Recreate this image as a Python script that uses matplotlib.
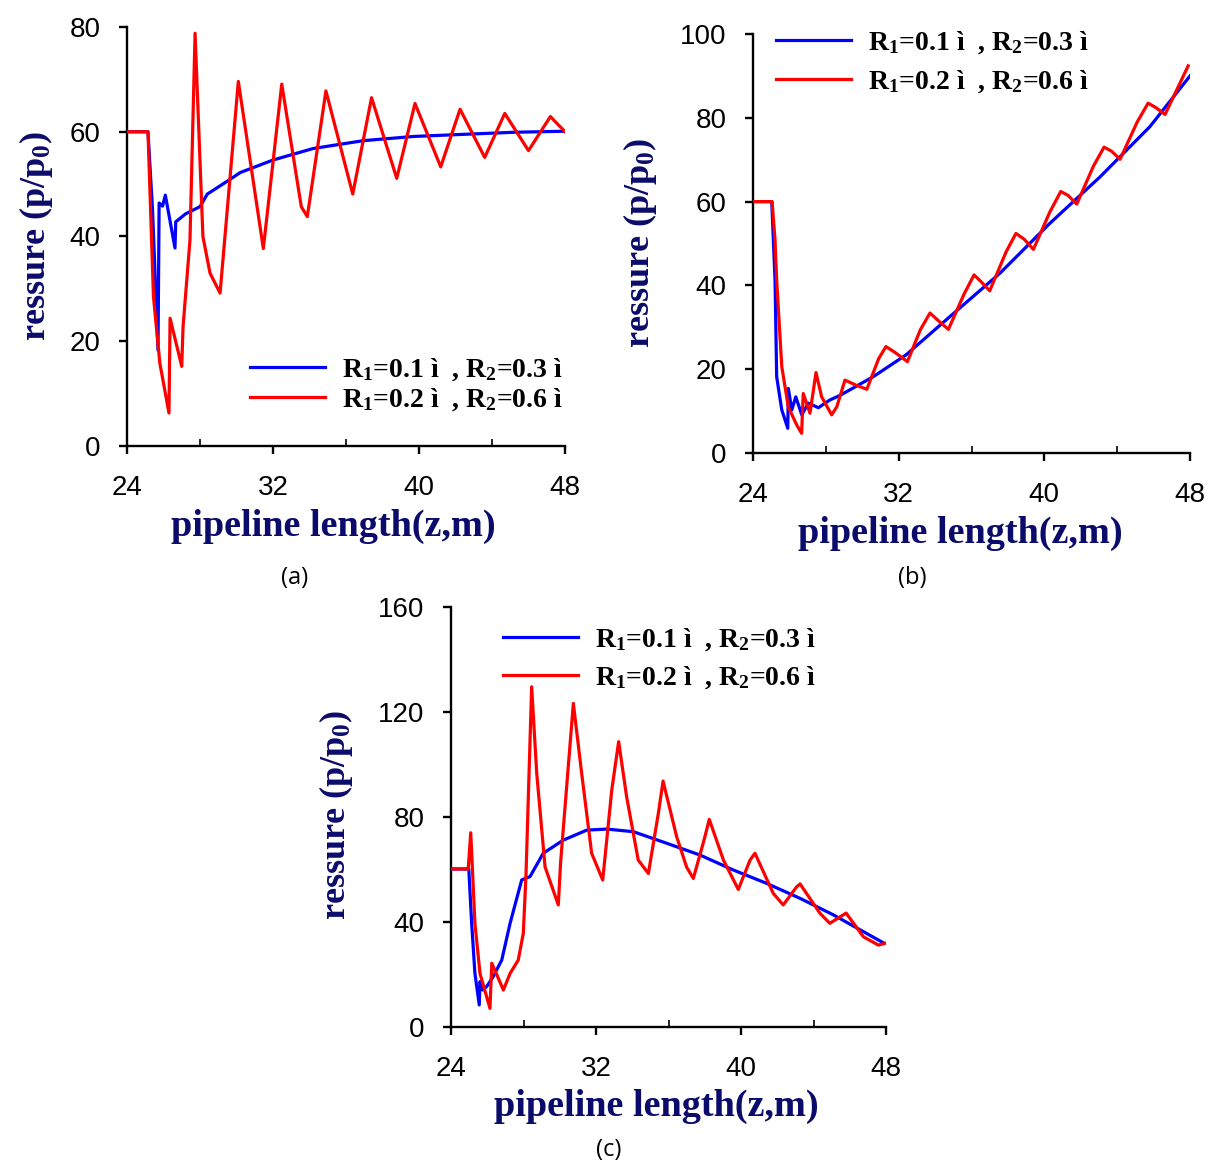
import matplotlib
matplotlib.use("Agg")
import matplotlib.pyplot as plt
from matplotlib.ticker import MultipleLocator

plt.rcParams['mathtext.fontset'] = 'custom'
plt.rcParams['mathtext.rm'] = 'Liberation Serif:bold'
plt.rcParams['mathtext.it'] = 'Liberation Serif:bold'
plt.rcParams['mathtext.bf'] = 'Liberation Serif:bold'

# ---------------- data ----------------
# panel (a)
a_blue_z = [24, 25.15, 25.4, 25.7, 25.76, 25.95, 26.1, 26.63, 26.67, 27.2, 28.0, 28.4,
            29.6, 30.2, 32.0, 34.2, 36.95, 39.7, 42.4, 45.2, 48]
a_blue_p = [60, 60, 45, 18.3, 46.4, 45.8, 47.9, 37.8, 42.8, 44.3, 45.7, 48.1,
            50.8, 52.2, 54.6, 56.8, 58.3, 59.1, 59.5, 59.9, 60.1]
a_red_z = [24, 25.15, 25.45, 25.8, 26.3, 26.36, 27.0, 27.07, 27.45, 27.73, 28.16, 28.55,
           29.1, 30.1, 31.47, 32.48, 33.55, 33.88, 34.9, 36.37, 37.4, 38.78, 39.78,
           41.19, 42.25, 43.6, 44.7, 46.0, 47.2, 48]
a_red_p = [60, 60, 28.5, 15.8, 6.3, 24.4, 15.2, 22.7, 39.3, 78.8, 40, 33,
           29.2, 69.6, 37.7, 69.1, 45.7, 43.8, 67.8, 48.1, 66.5, 51.1, 65.4,
           53.3, 64.3, 55.1, 63.5, 56.4, 62.9, 60]

# panel (b)
b_blue_z = [24, 25.03, 25.21, 25.3, 25.58, 25.91, 25.94, 26.13, 26.35, 26.68, 27.04, 27.59,
            28.2, 28.8, 30.6, 32.4, 34.8, 37.56, 40.3, 43.06, 45.8, 48]
b_blue_p = [60, 60, 41.3, 18.2, 10.3, 5.9, 15.4, 10.3, 13.4, 9.1, 11.9, 10.8,
            12.6, 13.8, 18.2, 23.4, 32.5, 42.9, 54.8, 65.9, 77.9, 90]
b_red_z = [24, 25.05, 25.21, 25.3, 25.58, 25.94, 26.4, 26.67, 26.76, 27.13, 27.46, 27.77,
           28.32, 28.6, 29.05, 29.6, 30.25, 30.9, 31.3, 31.8, 32.48, 33.2, 33.72, 34.2,
           34.73, 35.6, 36.14, 36.5, 37.0, 37.9, 38.44, 38.9, 39.4, 40.3, 40.9, 41.3,
           41.78, 42.7, 43.28, 43.7, 44.16, 45.1, 45.7, 46.1, 46.63, 47.9]
b_red_p = [60, 60, 50.8, 41.3, 20.6, 11, 6.7, 4.7, 14.2, 9.5, 19.2, 13.4,
           9.1, 11, 17.4, 16.3, 15.2, 22.5, 25.4, 24.0, 21.8, 29.5, 33.4, 31.5,
           29.5, 38.0, 42.5, 41.0, 38.7, 48.0, 52.4, 51.0, 48.6, 57.5, 62.4, 61.5,
           59.4, 68.5, 73, 72.0, 70.1, 79.0, 83.5, 82.5, 80.8, 92.4]

# panel (c)
c_blue_z = [24, 24.98, 25.14, 25.32, 25.56, 25.6, 25.75, 25.97, 26.33, 26.8, 27.26, 27.9,
            28.36, 29.09, 30.2, 31.49, 32.6, 34.06, 35.9, 37.74, 39.58, 41.42, 43.26,
            45.1, 47.9]
c_blue_p = [60.2, 60.2, 39.5, 20.4, 8.4, 17.3, 14.1, 15.4, 19.2, 25.5, 39.5, 56,
            57.3, 66.2, 71.2, 75, 75.4, 74.4, 70, 65.5, 59.8, 54.7, 49,
            42.7, 31.9]
c_red_z = [24, 24.95, 25.09, 25.32, 25.6, 26.15, 26.25, 26.89, 27.26, 27.71, 27.99, 28.14,
           28.45, 28.73, 29.19, 29.92, 30.05, 30.75, 31.21, 31.76, 32.37, 32.87, 33.25,
           33.69, 34.33, 34.89, 35.44, 35.7, 36.45, 37.0, 37.37, 37.96, 38.25, 39.03,
           39.85, 40.5, 40.77, 41.78, 42.33, 43.07, 43.26, 44.36, 44.9, 45.8, 46.75,
           47.58, 47.95]
c_red_p = [60.2, 60.2, 74, 39.5, 20.4, 7.1, 24.3, 14.1, 20.4, 25.5, 35.7, 58.5,
           129.6, 96.6, 61, 46.5, 63, 123.3, 96.6, 66.2, 56, 90.3, 108.7,
           87.7, 63.6, 58.5, 81.4, 93.7, 72.5, 60.9, 56.6, 71.2, 79.1, 63.6,
           52.4, 63.6, 66.2, 50.9, 46.5, 53.4, 54.5, 43.3, 39.5, 43.4, 34.4,
           31.2, 31.9]

x_ticks = [24, 32, 40, 48]
label_blue = 'R$_1$=0.1 ì  , R$_2$=0.3 ì'
label_red = 'R$_1$=0.2 ì  , R$_2$=0.6 ì'
xlabel = 'pipeline length(z,m)'
ylabel = 'ressure (p/p$_0$)'

# ---------------- figure ----------------
W, H = 1208, 1163
fig = plt.figure(figsize=(W / 100, H / 100), dpi=100)

def px_axes(l, t, r, b):
    return fig.add_axes([l / W, 1 - b / H, (r - l) / W, (b - t) / H])

navy = '#0b0b6b'
serif = ['Liberation Serif', 'DejaVu Serif']
sans = ['Liberation Sans', 'DejaVu Sans']

panels = [
    dict(box=(127, 27, 565, 446), bz=a_blue_z, bp=a_blue_p, rz=a_red_z, rp=a_red_p,
         ymax=80, ystep=20, leg=(0.281, 0.215), ls=0.12, xl=(0.471, -0.193),
         yl=(-0.208, 0.50), cap='(a)', cappos=(295, 578)),
    dict(box=(753, 34, 1190, 453), bz=b_blue_z, bp=b_blue_p, rz=b_red_z, rp=b_red_p,
         ymax=100, ystep=20, leg=(0.053, 1.01), ls=0.42, xl=(0.474, -0.193),
         yl=(-0.259, 0.50), cap='(b)', cappos=(912, 578)),
    dict(box=(451, 607, 886, 1027), bz=c_blue_z, bp=c_blue_p, rz=c_red_z, rp=c_red_p,
         ymax=160, ystep=40, leg=(0.12, 0.955), ls=0.42, xl=(0.471, -0.19),
         yl=(-0.264, 0.505), cap='(c)', cappos=(609, 1150)),
]

for pn in panels:
    ax = px_axes(*pn['box'])
    ax.plot(pn['bz'], pn['bp'], color='#0000ff', lw=2.3, label=label_blue, zorder=3,
            solid_joinstyle='round')
    ax.plot(pn['rz'], pn['rp'], color='#ff0000', lw=2.3, label=label_red, zorder=4,
            solid_joinstyle='round')
    ax.set_xlim(24, 48)
    ax.set_ylim(0, pn['ymax'])
    ax.set_xticks(x_ticks)
    ax.xaxis.set_minor_locator(MultipleLocator(4))
    ax.yaxis.set_major_locator(MultipleLocator(pn['ystep']))
    for s in ['top', 'right']:
        ax.spines[s].set_visible(False)
    for s in ['left', 'bottom']:
        ax.spines[s].set_linewidth(1.7)
    ax.tick_params(axis='both', which='major', direction='out', length=6, width=1.7,
                   labelsize=20, pad=13)
    ax.tick_params(axis='x', which='minor', direction='in', length=5, width=1.2)
    ax.tick_params(axis='x', which='major', pad=15)
    for lab in ax.get_xticklabels() + ax.get_yticklabels():
        lab.set_family(sans)
    ax.text(pn['xl'][0], pn['xl'][1], xlabel, transform=ax.transAxes, ha='center',
            va='center', fontsize=27.5, fontweight='bold', family=serif, color=navy)
    ax.text(pn['yl'][0], pn['yl'][1], ylabel, transform=ax.transAxes, ha='center',
            va='center', rotation=90, fontsize=26, fontweight='bold', family=serif,
            color=navy)
    leg = ax.legend(loc='upper left', bbox_to_anchor=pn['leg'], frameon=False,
                    borderpad=0, borderaxespad=0, handlelength=2.7, handletextpad=0.6,
                    labelspacing=pn['ls'], prop=dict(family=serif, weight='bold', size=20))
    for t in leg.get_texts():
        t.set_color('black')
    fig.text(pn['cappos'][0] / W, 1 - pn['cappos'][1] / H, pn['cap'], ha='center',
             va='center', fontsize=17, family=['Open Sans', 'DejaVu Sans'])

fig.savefig('out.png', dpi=100)
